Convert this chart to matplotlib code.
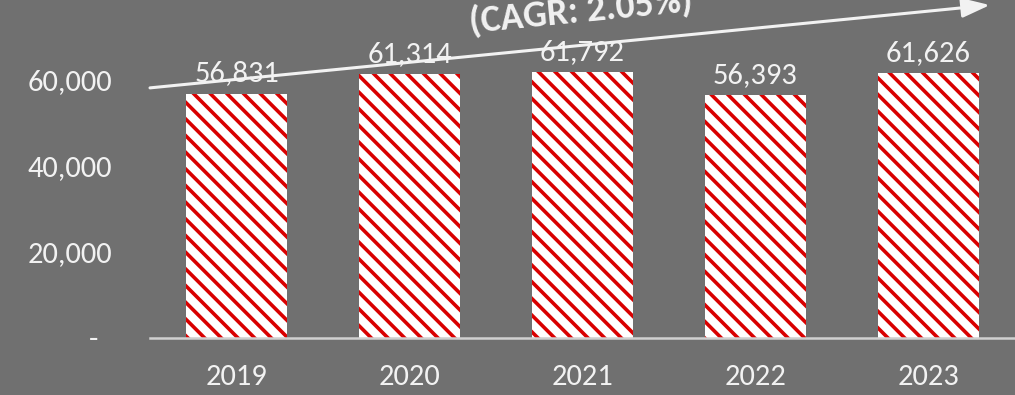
import matplotlib
matplotlib.use("Agg")
import matplotlib.pyplot as plt

# 数据
years = ["2019", "2020", "2021", "2022", "2023"]
values = [56831, 61314, 61792, 56393, 61626]
y_ticks = [0, 20000, 40000, 60000]
y_tick_labels = ["-  ", "20,000", "40,000", "60,000"]
cagr_text = "(CAGR: 2.05%)"

BG = "#707070"
RED = "#d90000"
FG = "#f2f2f2"

plt.rcParams["font.family"] = ["Carlito", "DejaVu Sans"]
plt.rcParams["hatch.linewidth"] = 2.6
plt.rcParams["hatch.color"] = RED

fig = plt.figure(figsize=(10.15, 3.95), dpi=100, facecolor=BG)
ax = fig.add_axes([150 / 1015, 57 / 395, 865 / 1015, 338 / 395])
ax.set_facecolor(BG)

x = range(len(years))
ax.bar(x, values, width=0.58, color="white", edgecolor=RED,
       hatch="\\\\", linewidth=0)

for xi, v in zip(x, values):
    ax.text(xi, v + 1700, f"{v:,}", ha="center", va="bottom",
            fontsize=22, color=FG)

ax.set_xlim(-0.5, 4.5)
ax.set_ylim(0, 78600)
ax.set_xticks(list(x))
ax.set_xticklabels(years, fontsize=22, color=FG)
ax.set_yticks(y_ticks)
ax.set_yticklabels(y_tick_labels, fontsize=22, color=FG)
ax.tick_params(axis="x", length=0, pad=19)
ax.tick_params(axis="y", length=0, pad=27)

for s in ["top", "right", "left"]:
    ax.spines[s].set_visible(False)
ax.spines["bottom"].set_color("#d0d0d0")
ax.spines["bottom"].set_linewidth(1.8)

# 趋势箭头 + CAGR
ax.annotate("", xy=(0.971, 0.985), xytext=(0.0, 0.740),
            xycoords="axes fraction", textcoords="axes fraction",
            arrowprops=dict(arrowstyle="-|>,head_length=1.0,head_width=0.35",
                            color=FG, lw=2.2, mutation_scale=17,
                            shrinkA=0, shrinkB=0),
            annotation_clip=False)
ax.text(0.498, 0.968, cagr_text, transform=ax.transAxes, rotation=5.6,
        ha="center", va="center", fontsize=27, fontweight="bold",
        color=FG, clip_on=False)

fig.savefig("out.png", dpi=100, facecolor=BG)
